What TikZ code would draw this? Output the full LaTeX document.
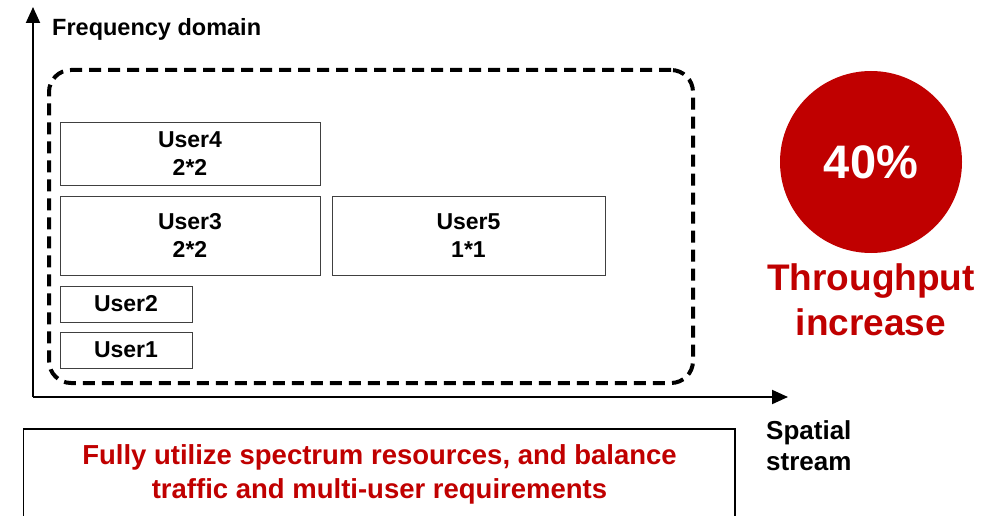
\documentclass[tikz,border=0pt]{standalone}
\usepackage{fontspec}
\setmainfont{Liberation Sans}
\usetikzlibrary{arrows.meta}
\definecolor{accent}{HTML}{C00000}
\newcommand\fsz[2]{\fontsize{#1}{#2}\selectfont\bfseries}

\tikzset{
  axis/.style={line width=2pt, -{Triangle[length=16pt,width=14pt]}},
  userbox/.style={draw=black!75, line width=0.9pt, inner sep=0pt, align=center,
                  font=\fsz{23}{28}},
  groupbox/.style={draw=black, line width=4pt, dash pattern=on 12pt off 7pt,
                   rounded corners=22pt, inner sep=0pt},
  axislabel/.style={inner sep=0pt, align=left},
  redtext/.style={text=accent, inner sep=0pt, align=center},
}

\begin{document}
\begin{tikzpicture}[x=1pt,y=-1pt]
  \useasboundingbox (0,0) rectangle (997,516);

  % axes
  \coordinate (origin) at (33,397);
  \coordinate (ytip) at (33,7);
  \coordinate (xtip) at (788,397);
  \draw[axis] (origin) -- (ytip);
  \draw[axis] (origin) -- (xtip);
  \node[axislabel, anchor=base west, font=\fsz{23.5}{28}] (ylabel) at (52,35.5) {Frequency domain};
  % multi-line nodes: base anchor sits on the last line
  \node[axislabel, anchor=base west, font=\fsz{26}{31}] (xlabel) at (766,470) {Spatial\\stream};

  % resource group
  \node[groupbox, minimum width=644pt, minimum height=313pt] (group) at (371,226.5) {};

  % user allocations
  \node[userbox, minimum width=260pt, minimum height=63pt] (u4) at (190,153.5) {User4\\2*2};
  \node[userbox, minimum width=260pt, minimum height=79pt] (u3) at (190,235.5) {User3\\2*2};
  \node[userbox, minimum width=273pt, minimum height=79pt] (u5) at (468.5,235.5) {User5\\1*1};
  \node[userbox, minimum width=132pt, minimum height=36pt] (u2) at (126,304) {User2};
  \node[userbox, minimum width=132pt, minimum height=36pt] (u1) at (126,350) {User1};

  % gain badge
  \node[circle, fill=accent, minimum size=182pt, inner sep=0pt, text=white,
        font=\fsz{47}{50}] (gain) at (871,162) {40\%};
  \node[redtext, anchor=base, font=\fsz{37}{45}] (gaintext) at (871,335) {Throughput\\increase};

  % goal statement
  \draw[line width=1.8pt] (23.5,530) coordinate (gl) -- (23.5,429) -- (735,429) -- (735,530) coordinate (gr);
  \node[redtext, anchor=base, font=\fsz{27.5}{34}] (goal) at (379.5,498) {Fully utilize spectrum resources, and balance\\traffic and multi-user requirements};
\end{tikzpicture}
\end{document}
